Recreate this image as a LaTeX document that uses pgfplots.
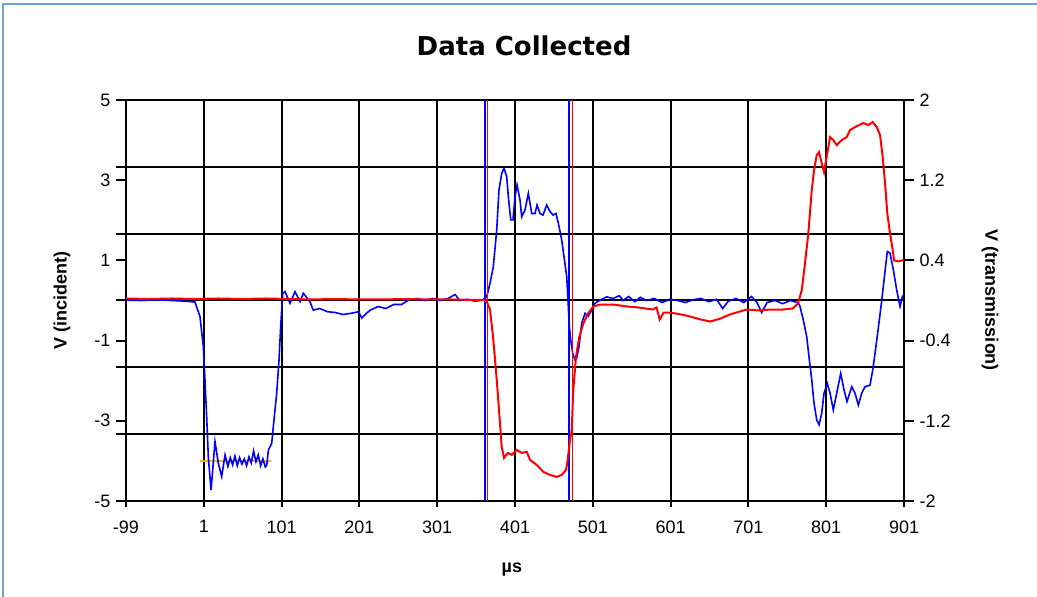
\documentclass[border=0pt]{standalone}
\usepackage{fontspec}
\setmainfont{Liberation Sans}
\newfontfamily\titlefont{DejaVu Sans}
\usepackage{pgfplots}
\pgfplotsset{compat=1.18}
\definecolor{frameblue}{RGB}{110,160,225}
\definecolor{markorange}{RGB}{255,170,30}

\pgfplotsset{
  chartbase/.style={
    scale only axis, width=389pt, height=200.5pt,
    xmin=-99, xmax=901,
    /pgf/number format/assume math mode=true,
    tick label style={font=\fontsize{9}{11}\selectfont},
    label style={font=\bfseries\fontsize{9}{11}\selectfont},
    tick align=outside,
    axis line style={black, line width=1pt},
    ytick style={black, line width=1pt, /pgfplots/major tick length=5pt},
    xtick style={black, line width=1pt, /pgfplots/major tick length=3pt},
    clip=false,
  }
}

\begin{document}
\begin{tikzpicture}
\useasboundingbox (-63pt,-48pt) rectangle (455.5pt,250.5pt);
\draw[frameblue, line width=0.8pt] (-61.5pt,-48pt) -- (-61.5pt,248.5pt) -- (455.5pt,248.5pt);

% incident (left scale)
\begin{axis}[chartbase,
  ymin=-5, ymax=5,
  xtick={-99,1,101,201,301,401,501,601,701,801,901},
  ytick={-5,-3,-1,1,3,5},
  xtick pos=bottom, ytick pos=left,
  xmajorgrids,
  extra y ticks={-3.3333,-1.6667,0,1.6667,3.3333},
  extra y tick labels={},
  extra y tick style={ymajorgrids=true, /pgfplots/major tick length=0pt},
  major grid style={black, line width=1pt},
  title={Data Collected},
  title style={font=\titlefont\bfseries\fontsize{13}{15}\selectfont, at={(axis description cs:0.5116,1.105)}, anchor=center},
  xlabel={µs},
  xlabel style={at={(axis description cs:0.496,-0.172)}, anchor=center},
  ylabel={V (incident)},
  ylabel style={at={(axis description cs:-0.0823,0.5)}, anchor=center},
  xticklabel style={yshift=-2pt},
]
\addplot[blue, line width=0.8pt] coordinates {(362.8,-5) (362.8,5)};
\addplot[blue, line width=0.8pt] coordinates {(470.2,-5) (470.2,5)};
\addplot[markorange, line width=0.9pt] coordinates {(-4,-4.0) (88,-4.0)};
\addplot[blue, line width=0.8pt] coordinates {
(-99,0.01)(-80,0.0)(-60,0.02)(-40,0.0)(-20,-0.02)(-10.3,-0.04)(-3.9,-0.40)(0.4,-1.15)
(2.5,-1.98)(4.7,-2.90)(6.8,-3.90)(10.3,-4.73)(15.4,-3.52)(19.6,-4.05)(24.0,-4.39)(28.3,-3.85)
(32,-4.14)(35,-3.92)(38,-4.10)(41,-3.88)(44,-4.12)(47,-3.92)(50,-4.08)(53,-3.95)(56,-4.12)
(59,-3.90)(62,-4.05)(65,-3.75)(68,-4.02)(71,-3.85)(74,-4.12)(77,-3.95)(80,-4.15)(82,-4.10)
(84,-3.73)(88.3,-3.56)(91.2,-2.98)(94.7,-2.31)(97.7,-1.48)(99.8,-0.65)(102.4,0.18)(105.4,0.22)
(111.8,-0.07)(118.2,0.22)(124.7,-0.03)(128.9,0.18)(137.5,-0.03)(141.7,-0.24)(150,-0.2)(160,-0.28)
(170,-0.30)(180,-0.35)(190,-0.32)(200,-0.28)(204,-0.44)(210,-0.32)(215,-0.24)(225,-0.15)
(235,-0.2)(245,-0.1)(255,-0.1)(265,0.02)(275,0.05)(285,0.0)(295,0.05)(305,0.0)(315,0.05)
(324,0.15)(330,0.0)(340,0.03)(350,-0.02)(360,0.02)(364.6,0.09)(368.9,0.43)(373.1,0.84)
(377.5,1.76)(380.4,2.76)(383.9,3.17)(386.9,3.30)(390.3,3.09)(392.4,2.59)(395.5,2.01)(398.4,2.01)
(401.0,2.59)(403.6,2.88)(407.4,2.51)(409.6,2.09)(413.9,2.26)(418.1,2.67)(422.5,2.17)(426.7,2.17)
(429.3,2.38)(433.1,2.17)(437,2.13)(441.7,2.38)(446,2.22)(449.8,2.13)(453.7,2.17)(456.7,1.93)
(461,1.51)(464,1.09)(467.5,0.59)(469.1,0.01)(470.8,-0.65)(472.6,-0.99)(475.2,-1.32)(478.1,-1.48)
(480.3,-1.44)(483.3,-1.15)(486.7,-0.57)(491,-0.32)(494.8,-0.40)(499.6,-0.24)(503.8,-0.07)
(510.3,0.01)(518.9,0.09)(527,0.05)(535,0.12)(540,0.0)(547,0.1)(555,-0.03)(562,0.08)(570,0.0)
(580,0.05)(590,-0.05)(600,0.03)(610,0.0)(620,-0.05)(630,0.02)(640,0.05)(650,-0.03)(660,0.03)
(668,-0.2)(675,-0.02)(685,0.05)(695,-0.05)(705,0.1)(712,-0.05)(718,-0.3)(725,-0.05)(735,0.0)
(745,-0.08)(755,0.0)(765.2,-0.06)(767.3,-0.15)(771.6,-0.49)(775.9,-0.90)(779.3,-1.48)(782.4,-1.98)
(785.3,-2.56)(788.8,-2.98)(791.8,-3.10)(795.2,-2.81)(798.2,-2.31)(802.4,-2.07)(805.9,-2.31)
(810.1,-2.73)(814.5,-2.31)(819.6,-1.82)(823.9,-2.23)(827.7,-2.52)(833.8,-2.15)(838,-2.31)
(842.3,-2.61)(846.6,-2.31)(850.9,-2.15)(857.3,-2.11)(860.8,-1.73)(863.7,-1.32)(867.6,-0.74)
(872.4,0.01)(875.3,0.51)(879.5,1.22)(883,1.18)(887.3,0.76)(891.6,0.26)(895.9,-0.15)(898.8,0.09)(901,0.0)
};
\end{axis}

% transmission (right scale)
\begin{axis}[chartbase,
  ymin=-2, ymax=2,
  axis x line=none, axis y line*=right,
  ytick={-2,-1.2,-0.4,0.4,1.2,2},
  ylabel={V (transmission)},
  ylabel style={at={(axis description cs:1.1105,0.5)}, anchor=center, rotate=180},
]
\addplot[red, line width=0.8pt] coordinates {(365.7,-2) (365.7,2)};
\addplot[red, line width=0.8pt] coordinates {(474.9,-2) (474.9,2)};
\addplot[red, line width=1pt] coordinates {
(-99,0.02)(-70,0.015)(-40,0.02)(-10,0.015)(20,0.02)(50,0.015)(80,0.02)(110,0.015)(140,0.01)
(170,0.015)(200,0.01)(230,0.01)(260,0.015)(290,0.01)(320,0.01)(350,0.005)(362,0.005)
(364.6,-0.01)(368.9,-0.09)(373.1,-0.39)(377.5,-0.79)(380.8,-1.13)(383.9,-1.46)(386.9,-1.57)
(392,-1.52)(396.8,-1.54)(403.2,-1.49)(409.6,-1.52)(416.1,-1.51)(420.3,-1.59)(428.9,-1.64)
(437.4,-1.71)(446,-1.74)(454.6,-1.76)(461,-1.74)(466.6,-1.69)(468.7,-1.59)(471.7,-1.39)
(473.9,-1.29)(475.9,-0.89)(479.4,-0.56)(483.7,-0.36)(488.8,-0.23)(494.8,-0.13)(501.6,-0.06)
(510.3,-0.04)(527,-0.04)(545,-0.06)(560,-0.07)(578,-0.09)(583,-0.07)(587,-0.19)(592,-0.12)
(600,-0.12)(615,-0.14)(626,-0.16)(640,-0.19)(652,-0.21)(665,-0.18)(677,-0.14)(690,-0.11)
(699,-0.09)(715,-0.1)(729,-0.09)(745,-0.09)(758,-0.08)(764.7,-0.03)(769.5,0.10)(773.7,0.37)
(778,0.67)(782.4,1.10)(785.3,1.30)(788.8,1.45)(791.8,1.48)(795.2,1.37)(798.2,1.28)(802.4,1.47)
(805.9,1.63)(810.1,1.60)(814.5,1.55)(820.9,1.60)(827.4,1.63)(831.6,1.70)(838,1.73)(848.7,1.77)
(855.1,1.75)(860.8,1.78)(865.9,1.73)(870.2,1.65)(873.6,1.43)(876.6,1.17)(879.5,0.87)(883,0.67)
(886.5,0.50)(888.2,0.40)(893.7,0.39)(898.8,0.40)(901,0.41)
};
\end{axis}
\end{tikzpicture}
\end{document}
